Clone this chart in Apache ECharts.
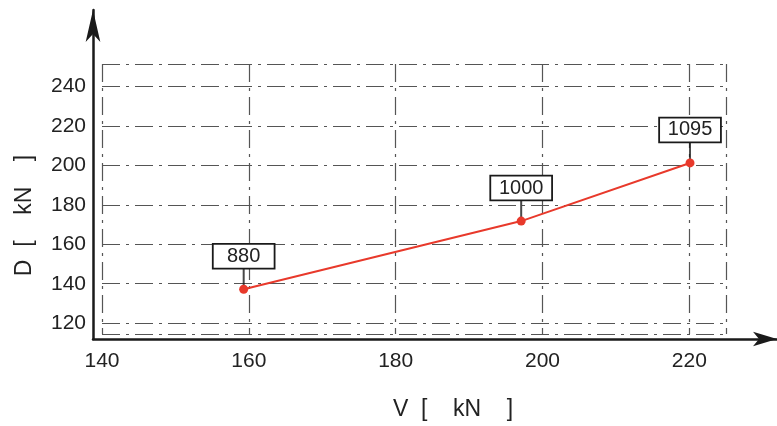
<!DOCTYPE html>
<html>
<head>
<meta charset="utf-8">
<script src="https://cdn.jsdelivr.net/npm/echarts@6/dist/echarts.min.js"></script>
<style>html,body{margin:0;padding:0;background:#fff}#c{width:777px;height:426px}</style>
</head>
<body>
<div id="c"></div>
<script>
// Data
const V = [159.3, 197.1, 220.1];          // x values [kN]
const D = [137.2, 171.8, 201.3];          // y values [kN]
const pointLabels = ['880', '1000', '1095'];
const xTickLabels = [140, 160, 180, 200, 220];
const yTickLabels = [120, 140, 160, 180, 200, 220, 240];
const xRange = [140, 225];
const yRange = [114.5, 251.5];

const FONT = 'Liberation Sans, Arial, Helvetica, sans-serif';
const gridLine = { show: true, lineStyle: { color: '#555', width: 1.2, type: [18, 6, 3, 6] } };
const pts = V.map((v, i) => [v, D[i]]);

const chart = echarts.init(document.getElementById('c'));
chart.setOption({
  animation: false,
  backgroundColor: '#fff',
  grid: [
    { left: 102, right: 51, top: 64, bottom: 87 },
    { left: 93, right: 0, top: 10, bottom: 87 }
  ],
  xAxis: [
    {
      gridIndex: 0, type: 'value', min: xRange[0], max: xRange[1], interval: 20,
      axisLine: { show: false }, axisTick: { show: false },
      axisLabel: {
        fontFamily: FONT, fontSize: 21, color: '#222', margin: 17,
        formatter: v => xTickLabels.includes(v) ? String(v) : ''
      },
      splitLine: gridLine,
      name: 'V  [    kN    ]', nameLocation: 'middle', nameGap: 64,
      nameTextStyle: { fontFamily: FONT, fontSize: 23, color: '#222', padding: [0, 0, 0, 78] }
    },
    {
      gridIndex: 1, type: 'value', min: 0, max: 1,
      axisLine: { show: true, symbol: ['none', 'arrow'], symbolSize: [11, 24], lineStyle: { color: '#1a1a1a', width: 2.5 } },
      axisTick: { show: false }, axisLabel: { show: false }, splitLine: { show: false }
    }
  ],
  yAxis: [
    {
      gridIndex: 0, type: 'value', min: yRange[0], max: yRange[1], splitNumber: 7,
      axisLine: { show: false }, axisTick: { show: false },
      axisLabel: {
        fontFamily: FONT, fontSize: 21, color: '#222', margin: 16,
        formatter: v => yTickLabels.includes(v) ? String(v) : ''
      },
      splitLine: gridLine,
      name: 'D  [    kN    ]', nameLocation: 'middle', nameGap: 66, nameRotate: 90,
      nameTextStyle: { fontFamily: FONT, fontSize: 23, color: '#222', padding: [0, 33, 0, 0] }
    },
    {
      gridIndex: 1, type: 'value', min: 0, max: 1,
      axisLine: { show: true, symbol: ['none', 'arrow'], symbolSize: [11, 32], lineStyle: { color: '#1a1a1a', width: 2.5 } },
      axisTick: { show: false }, axisLabel: { show: false }, splitLine: { show: false }
    }
  ],
  series: [
    {
      type: 'scatter', xAxisIndex: 0, yAxisIndex: 0, data: pts,
      symbol: 'rect', symbolSize: [2, 22], symbolOffset: [0, -11],
      itemStyle: { color: '#1a1a1a' }, silent: true, z: 3
    },
    {
      type: 'line', xAxisIndex: 0, yAxisIndex: 0, data: pts,
      symbol: 'circle', symbolSize: 9, showSymbol: true,
      lineStyle: { color: '#e8392b', width: 2 },
      itemStyle: { color: '#e8392b' }, z: 4,
      label: {
        show: true, position: 'inside', offset: [0, -33],
        formatter: p => pointLabels[p.dataIndex],
        fontFamily: FONT, fontSize: 20, color: '#222',
        backgroundColor: '#fff', borderColor: '#1a1a1a', borderWidth: 1.8,
        width: 44, align: 'center', lineHeight: 21, padding: [1, 8]
      }
    }
  ]
});
</script>
</body>
</html>
